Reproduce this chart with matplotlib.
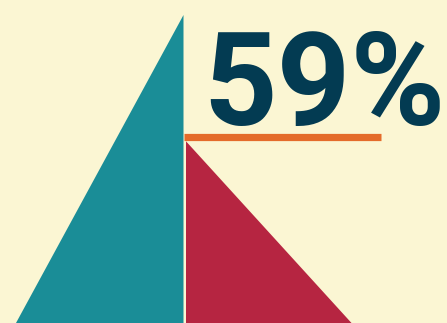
import matplotlib
matplotlib.use("Agg")
import matplotlib.pyplot as plt
from matplotlib.patches import Polygon
from matplotlib.textpath import TextPath
from matplotlib.font_manager import FontProperties

# Data
total_pct = 100
share_pct = 59
label = f"{share_pct}%"

BG = "#FBF6D3"
TEAL = "#1A8D97"
RED = "#B62541"
ORANGE = "#E46B2A"
NAVY = "#033B52"

W, H = 447, 323
fig = plt.figure(figsize=(W / 100, H / 100), dpi=100, facecolor=BG)
ax = fig.add_axes([0, 0, 1, 1])
ax.set_facecolor(BG)
ax.set_xlim(0, W)
ytop = total_pct * H / 308.0
ax.set_ylim(0, ytop)
ax.axis("off")

# teal triangle (total)
ax.add_patch(Polygon([(16, 0), (183.5, total_pct), (183.5, 0)], closed=True,
                     facecolor=TEAL, edgecolor="none"))
# red triangle (share)
ax.add_patch(Polygon([(186, 0), (186, share_pct), (351.5, 0)], closed=True,
                     facecolor=RED, edgecolor="none"))
# orange line above share
ax.plot([183.5, 381], [share_pct + 1.4, share_pct + 1.4], color=ORANGE,
        linewidth=5.2, solid_capstyle="butt")

# fit big label to target ink box (pixels from top-left)
prop = FontProperties(family="Roboto", weight="bold")
ext = TextPath((0, 0), label, size=1, prop=prop).get_extents()
ink_h_px = 94.0
px_per_unit = ink_h_px / ext.height          # px per font-size unit
fontsize = px_per_unit * 72 / 100
x_px = 210 - ext.x0 * px_per_unit
base_px = (H - 126) - ext.y0 * px_per_unit
ax.text(x_px, base_px * ytop / H, label, fontproperties=prop, fontsize=fontsize,
        color=NAVY, ha="left", va="baseline")

fig.savefig("out.png", dpi=100, facecolor=BG)
